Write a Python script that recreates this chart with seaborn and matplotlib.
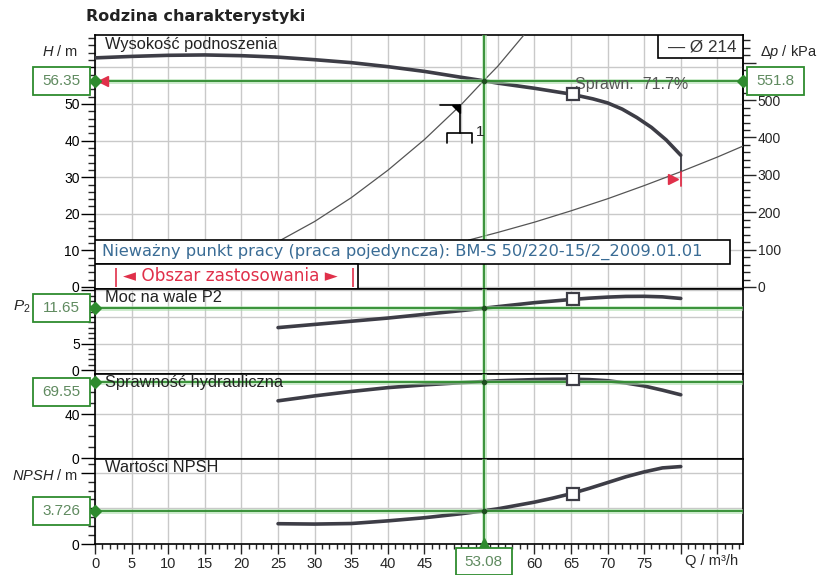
import matplotlib
matplotlib.use("Agg")
import matplotlib.pyplot as plt
import seaborn as sns
from matplotlib.patches import Rectangle, Polygon
from matplotlib.ticker import MultipleLocator, FixedLocator, FixedFormatter

# ---------------- pump characteristic data (Q in m³/h) ----------------
q_head = [0, 5, 10, 15, 20, 25, 30, 35, 40, 45, 50, 53.08, 55, 60, 65, 68, 70, 72, 74, 76, 78, 80]
head = [62.6, 63.0, 63.3, 63.4, 63.2, 62.8, 62.1, 61.3, 60.2, 58.9, 57.3, 56.35, 55.7, 54.3,
        52.7, 51.4, 50.3, 48.6, 46.3, 43.6, 40.2, 36.0]

q_curve = [25, 30, 35, 40, 45, 50, 53.08, 55, 60, 62.5, 65, 67.5, 70, 72.5, 75, 77.5, 80]
power = [8.0, 8.6, 9.2, 9.8, 10.5, 11.2, 11.65, 11.95, 12.7, 13.0, 13.3, 13.55, 13.75, 13.88,
         13.9, 13.8, 13.5]
efficiency = [52.0, 56.5, 60.5, 64.0, 66.5, 68.5, 69.55, 70.2, 71.3, 71.6, 71.7, 71.3, 70.3,
              68.2, 65.5, 61.7, 57.5]
npsh = [2.28, 2.24, 2.30, 2.60, 2.95, 3.40, 3.726, 3.95, 4.70, 5.15, 5.65, 6.25, 6.90, 7.55,
        8.10, 8.55, 8.70]

# system curves
q_sys1 = [25, 30, 35, 40, 45, 50, 53.08, 55, 58.6]
h_sys1 = [12.4, 17.9, 24.4, 31.9, 40.3, 49.8, 56.35, 60.3, 68.9]
q_sys2 = [51, 55, 60, 65, 70, 75, 80, 85, 88.5]
h_sys2 = [12.8, 14.9, 17.7, 20.8, 24.1, 27.7, 31.5, 35.5, 38.5]

# operating point
q_op, h_op, dp_op = 53.08, 56.35, 551.8
p_op, eta_op, npsh_op = 11.65, 69.55, 3.726
# best efficiency point
q_bep, h_bep, p_bep, eta_bep, npsh_bep = 65.3, 52.7, 13.3, 71.7, 5.65
# application range and curve end
q_range = [2.9, 35.3]
q_end, h_limit_top, h_limit_bot = 80, 31.5, 27.5
q_limit_marker, h_limit_marker = 79.0, 29.5
q_valve, h_valve = 49.9, 49.7

x_ticks = list(range(0, 90, 5))
x_tick_labels = [str(v) if v not in (50, 55, 80, 85) else "" for v in x_ticks]

KPA_PER_M = dp_op / h_op
XMAX = 88.5

CURVE = "#3d3d46"
GRID = "#c9c9c9"
GREEN = "#2e8b2e"
GREEN_LIGHT = "#a8dca8"
BOX_TEXT = "#5f8a5f"
RED = "#e0304a"
BLUE = "#3a6c95"

sns.set_style("white")
plt.rcParams["font.family"] = ["Liberation Sans", "DejaVu Sans"]
plt.rcParams["mathtext.fontset"] = "custom"
plt.rcParams["mathtext.it"] = "Liberation Sans:italic"
plt.rcParams["mathtext.rm"] = "Liberation Sans"

W_PX, H_PX = 822, 575
fig = plt.figure(figsize=(W_PX / 100, H_PX / 100), dpi=100)


def add_panel(top, bottom):
    return fig.add_axes([95 / W_PX, 1 - bottom / H_PX, 648 / W_PX, (bottom - top) / H_PX])


ax_h = add_panel(35, 289)
ax_p = add_panel(289, 374)
ax_e = add_panel(374, 459)
ax_n = add_panel(459, 544)
axes = [ax_h, ax_p, ax_e, ax_n]

limits = [(-0.55, 68.85), (-0.75, 15.28), (-0.9, 76.4), (0, 9.55)]
majors = [[0, 10, 20, 30, 40, 50, 60], [0, 5, 10, 15], [0, 40], [0, 4, 8]]
major_labels = [["0", "10", "20", "30", "40", "50", ""], ["0", "5", "", ""], ["0", "40"], ["0", "", ""]]
minors = [2, 1, 10, 1]

for ax, lim, mj, ml, mn in zip(axes, limits, majors, major_labels, minors):
    ax.set_xlim(0, XMAX)
    ax.set_ylim(*lim)
    ax.xaxis.set_major_locator(FixedLocator(x_ticks))
    ax.xaxis.set_minor_locator(MultipleLocator(1))
    ax.yaxis.set_major_locator(FixedLocator(mj))
    ax.yaxis.set_major_formatter(FixedFormatter(ml))
    ax.yaxis.set_minor_locator(MultipleLocator(mn))
    ax.grid(True, which="major", color=GRID, lw=1.0)
    ax.set_axisbelow(True)
    for s in ax.spines.values():
        s.set_color("black")
        s.set_linewidth(1.2)
    ax.tick_params(axis="y", which="major", direction="out", length=10, width=1,
                   pad=1, labelsize=10, left=True, colors="black")
    ax.tick_params(axis="y", which="minor", direction="out", length=5, width=1, left=True)
    ax.tick_params(axis="x", which="both", length=0, labelbottom=False)

# bottom x axis
ax_n.xaxis.set_major_formatter(FixedFormatter(x_tick_labels))
ax_n.tick_params(axis="x", which="major", direction="out", length=7, width=1,
                 labelbottom=True, labelsize=10.5, pad=2, bottom=True)
ax_n.tick_params(axis="x", which="minor", direction="out", length=3.6, width=1, bottom=True)

# right pressure axis
sec = ax_h.secondary_yaxis("right", functions=(lambda h: h * KPA_PER_M, lambda p: p / KPA_PER_M))
sec.yaxis.set_major_locator(FixedLocator([0, 100, 200, 300, 400, 500, 600]))
sec.yaxis.set_major_formatter(FixedFormatter(["0", "100", "200", "300", "400", "500", ""]))
sec.yaxis.set_minor_locator(MultipleLocator(20))
sec.tick_params(axis="y", which="major", direction="out", length=9.5, width=1, pad=1, labelsize=10)
sec.tick_params(axis="y", which="minor", direction="out", length=5, width=1)
sec.spines["right"].set_linewidth(1.2)

# system curves
sns.lineplot(x=q_sys1, y=h_sys1, ax=ax_h, color="#555555", lw=0.9, zorder=3)
sns.lineplot(x=q_sys2, y=h_sys2, ax=ax_h, color="#555555", lw=0.9, zorder=3)

# pump curves
for ax, xs, ys in [(ax_h, q_head, head), (ax_p, q_curve, power),
                   (ax_e, q_curve, efficiency), (ax_n, q_curve, npsh)]:
    sns.lineplot(x=xs, y=ys, ax=ax, color=CURVE, lw=2.6, zorder=4)
    ax.set_xlabel("")
    ax.set_ylabel("")

# end of curve / limit markers
ax_h.plot([q_end, q_end], [head[-1], h_limit_top], color=CURVE, lw=1.3, zorder=4)
ax_h.plot([q_end, q_end], [h_limit_top, h_limit_bot], color=RED, lw=1.3, zorder=4)
ax_h.plot([q_limit_marker], [h_limit_marker], marker=">", color=RED, ms=7, zorder=6)
ax_h.plot([1.1], [h_op], marker="<", color=RED, ms=7, zorder=6)

# operating point lines
op_values = [(ax_h, h_op), (ax_p, p_op), (ax_e, eta_op), (ax_n, npsh_op)]
for ax, val in op_values:
    ax.axvline(q_op, color=GREEN_LIGHT, lw=3.5, alpha=0.6, zorder=4.5)
    ax.axvline(q_op, color=GREEN, lw=1.3, zorder=5)
    ax.axhline(val, color=GREEN_LIGHT, lw=3.5, alpha=0.6, zorder=4.5)
    ax.axhline(val, color=GREEN, lw=1.3, zorder=5)
    ax.plot([q_op], [val], marker="o", ms=3, color="#1f4f1f", zorder=6)
    ax.plot([0], [val], marker="D", ms=6, color=GREEN, clip_on=False, zorder=9)
ax_h.plot([XMAX], [h_op], marker="D", ms=6, color=GREEN, clip_on=False, zorder=9)
ax_n.plot([q_op], [0], marker="^", ms=9, color=GREEN, clip_on=False, zorder=9)

# best efficiency markers
for ax, val in [(ax_h, h_bep), (ax_p, p_bep), (ax_e, eta_bep), (ax_n, npsh_bep)]:
    ax.plot([q_bep], [val], marker="s", ms=8, mfc="white", mec=CURVE, mew=1.6, zorder=7)
ax_h.text(q_bep + 0.3, h_bep + 2.6, f"Sprawn.  {eta_bep}%", fontsize=11.5,
          color="#555555", va="center", ha="left", zorder=6)

# valve / geodetic head symbol
sx = XMAX / 648
sy = (limits[0][1] - limits[0][0]) / 254


def sym(dx, dy):
    return q_valve + dx * sx, h_valve - dy * sy


for seg in [[(-20, 0), (0, 0)], [(0, 0), (0, 28)],
            [(-13, 38), (-13, 28), (12, 28), (12, 38)]]:
    pts = [sym(*p) for p in seg]
    ax_h.plot([p[0] for p in pts], [p[1] for p in pts], color="black", lw=1.2, zorder=6)
ax_h.add_patch(Polygon([sym(-8, 0), sym(0, 0), sym(0, 8)], closed=True,
                       color="black", zorder=6))
ax_h.text(*sym(20, 27), "1", fontsize=11, ha="center", va="center", zorder=6)

# info boxes inside the head panel
ax_h.add_patch(Rectangle((0, 25 / 254), 635 / 648, 24 / 254, transform=ax_h.transAxes,
                         fc="white", ec="black", lw=1.2, zorder=7))
ax_h.add_patch(Rectangle((0, 0), 263 / 648, 25 / 254, transform=ax_h.transAxes,
                         fc="white", ec="black", lw=1.2, zorder=7))
ax_h.text(7 / 648, 37 / 254, "Nieważny punkt pracy (praca pojedyncza): BM-S 50/220-15/2_2009.01.01",
          transform=ax_h.transAxes, fontsize=11.7, family="DejaVu Sans", color=BLUE,
          ha="left", va="center", zorder=8)
ax_h.vlines(q_range, 0.1, 5.2, color=RED, lw=1.2, zorder=8)
ax_h.text(sum(q_range) / 2 - 0.6, 3.0, "◄ Obszar zastosowania ►", fontsize=12.2,
          family="DejaVu Sans", color=RED, ha="center", va="center", zorder=8)

# curve legend
ax_h.add_patch(Rectangle((563 / 648, 1 - 23 / 254), 85 / 648, 23 / 254, transform=ax_h.transAxes,
                         fc="white", ec="black", lw=1.2, zorder=7))
ax_h.text(0.99, 1 - 11.5 / 254, "— Ø 214", transform=ax_h.transAxes, fontsize=12.3,
          color="#333333", ha="right", va="center", zorder=8)

# panel titles
for ax, title, h_px in [(ax_h, "Wysokość podnoszenia", 254), (ax_p, "Moc na wale P2", 85),
                        (ax_e, "Sprawność hydrauliczna", 85), (ax_n, "Wartości NPSH", 85)]:
    ax.text(10 / 648, 1 - 9 / h_px, title, transform=ax.transAxes, fontsize=11.8,
            color="#222222", ha="left", va="center", zorder=8)

# figure level labels
fig.text(86 / W_PX, 1 - 16 / H_PX, "Rodzina charakterystyki", fontsize=11.5, fontweight="bold",
         family="DejaVu Sans", color="#222222", ha="left", va="center")
fig.text(78 / W_PX, 1 - 52 / H_PX, r"$H$ / m", fontsize=10.5, ha="right", va="center")
fig.text(760 / W_PX, 1 - 52 / H_PX, r"Δ$p$ / kPa", fontsize=10.5, ha="left", va="center")
fig.text(31 / W_PX, 1 - 307 / H_PX, r"$P_2$", fontsize=11, ha="right", va="center")
fig.text(78 / W_PX, 1 - 476 / H_PX, r"$NPSH$ / m", fontsize=10.5, ha="right", va="center")
fig.text(712 / W_PX, 1 - 561 / H_PX, "Q / m³/h", fontsize=10.5, ha="center", va="center")


def value_box(cx, cy, text, w=57, h=28):
    """Draw a framed value label centred at display coordinates (cx, cy)."""
    fig.add_artist(Rectangle(((cx - w / 2) / W_PX, (cy - h / 2) / H_PX), w / W_PX, h / H_PX,
                             transform=fig.transFigure, fc="white", ec=GREEN, lw=1.3, zorder=10))
    fig.text(cx / W_PX, cy / H_PX, text, fontsize=11, color=BOX_TEXT,
             ha="center", va="center", zorder=11)


for ax, val in op_values:
    _, cy = ax.transData.transform((0, val))
    # keep the label inside its own panel
    top_px = ax.get_position().y1 * H_PX
    cy = min(cy, top_px - 4 - 14)
    value_box(61.5, cy, f"{val:g}")
_, cy = ax_h.transData.transform((0, h_op))
value_box(775.5, cy, f"{dp_op:g}")
cx, _ = ax_n.transData.transform((q_op, 0))
value_box(cx, H_PX - 561.5, f"{q_op:g}", w=56, h=27)

fig.savefig("out.png", dpi=100)
